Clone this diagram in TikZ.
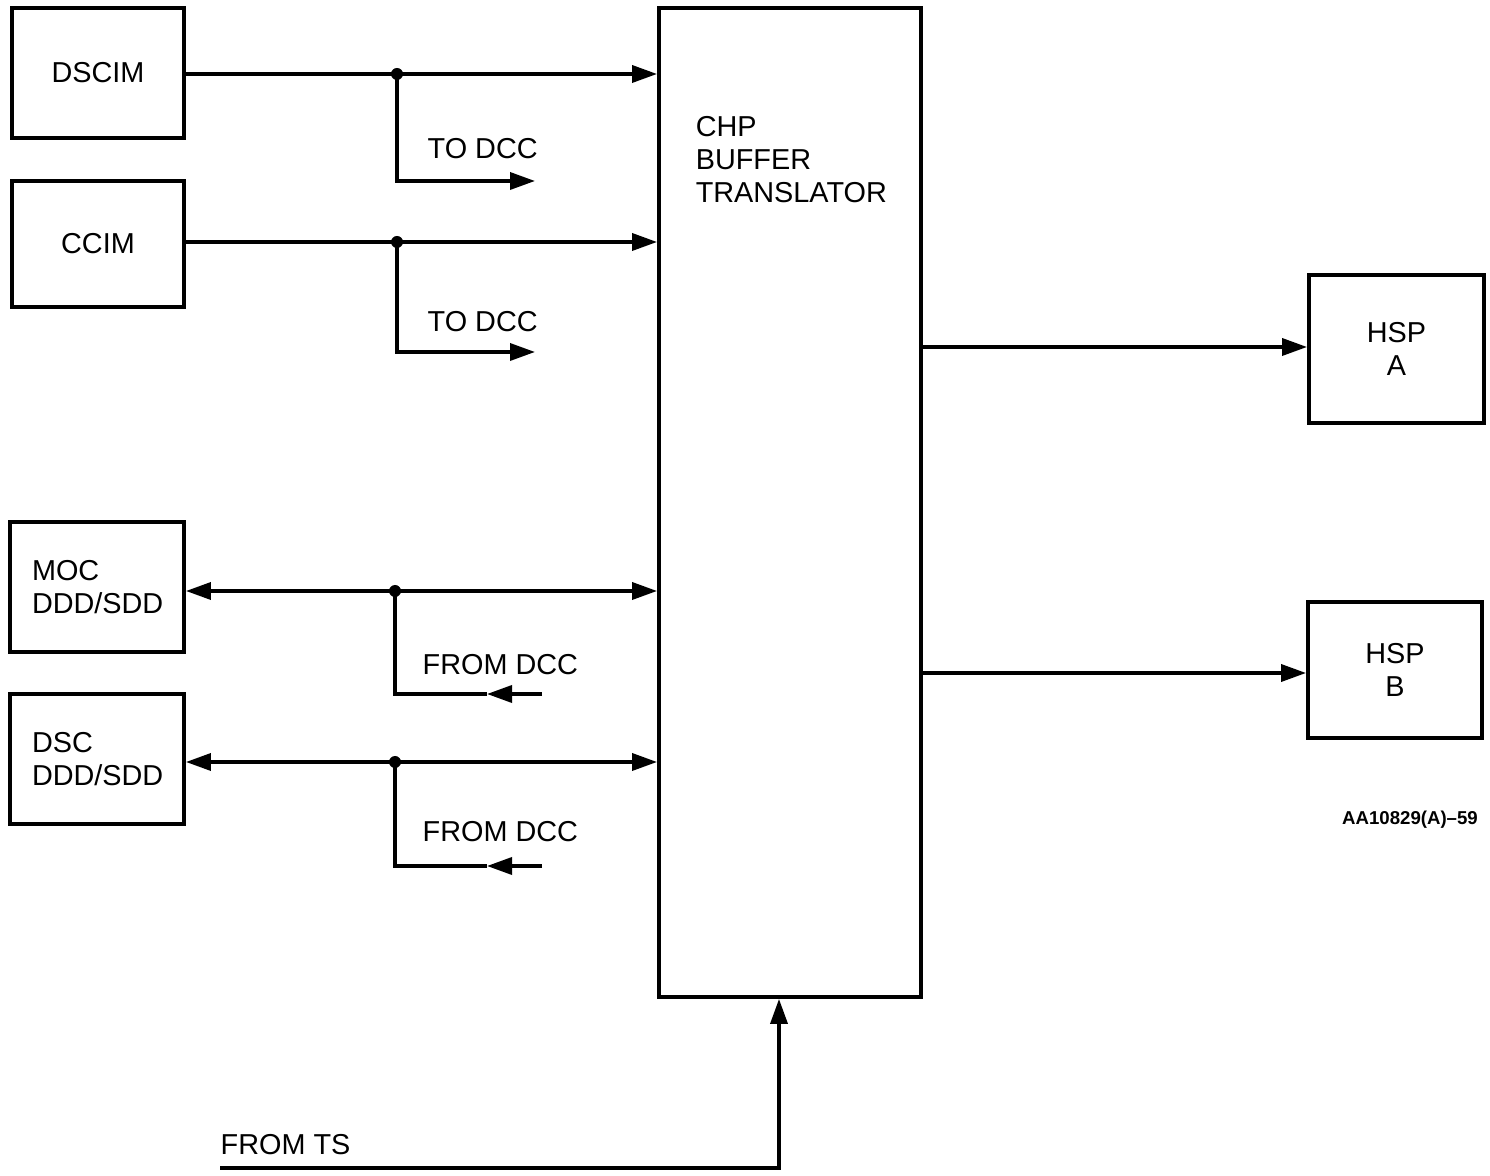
\documentclass[tikz,border=0pt]{standalone}
\usepackage{fontspec}
\setmainfont{Liberation Sans}
\usetikzlibrary{arrows.meta,positioning,calc}

\begin{document}
\begin{tikzpicture}[
    every node/.style={font=\fontsize{8.2}{9.3}\selectfont},
    blk/.style={rectangle, draw, line width=1.1pt, inner sep=0pt},
    lbl/.style={inner sep=0pt},
    arr/.style={-{Triangle[length=2.5mm, width=1.7mm]}, line width=1pt},
    dblarr/.style={{Triangle[length=2.5mm, width=1.7mm]}-{Triangle[length=2.5mm, width=1.7mm]}, line width=1pt},
    line/.style={line width=1pt},
    dot/.style={circle, fill, inner sep=0pt, minimum size=1.2mm}
]
    \useasboundingbox (0,0) rectangle (14.90,-11.76);

    % Blocks
    \node[blk, minimum width=1.72cm, minimum height=1.30cm] (dscim) at (0.98,-0.73) {DSCIM};
    \node[blk, minimum width=1.72cm, minimum height=1.26cm] (ccim) at (0.98,-2.44) {CCIM};
    \node[blk, minimum width=1.74cm, minimum height=1.30cm, text width=1.30cm, align=left]
        (moc) at (0.97,-5.87) {MOC\\DDD/SDD};
    \node[blk, minimum width=1.74cm, minimum height=1.30cm, text width=1.30cm, align=left]
        (dsc) at (0.97,-7.59) {DSC\\DDD/SDD};
    \node[blk, minimum width=2.62cm, minimum height=9.89cm] (chp) at (7.90,-5.025) {};
    \node[lbl, anchor=north west, align=left] (chptxt) at ($(chp.north west)+(0.38,-1.10)$)
        {CHP\\BUFFER\\TRANSLATOR};
    \node[blk, minimum width=1.75cm, minimum height=1.48cm, align=center] (hspa) at (13.965,-3.49) {HSP\\A};
    \node[blk, minimum width=1.74cm, minimum height=1.36cm, align=center] (hspb) at (13.95,-6.70) {HSP\\B};

    % Junctions and free ends
    \coordinate (j1) at (3.97,-0.74);
    \coordinate (j2) at (3.97,-2.42);
    \coordinate (j3) at (3.95,-5.91);
    \coordinate (j4) at (3.95,-7.62);
    \coordinate (t1) at (5.35,-1.81);
    \coordinate (t2) at (5.35,-3.52);
    \coordinate (f1) at (5.42,-6.94);
    \coordinate (f1tip) at (4.87,-6.94);
    \coordinate (f2) at (5.42,-8.66);
    \coordinate (f2tip) at (4.87,-8.66);
    \coordinate (ts) at (2.20,-11.68);
    \coordinate (tscorner) at (7.79,-11.68);

    % Inputs to the translator
    \draw[arr] (dscim.east |- j1) -- (j1 -| chp.west);
    \draw[arr] (ccim.east |- j2) -- (j2 -| chp.west);
    \draw[dblarr] (moc.east |- j3) -- (j3 -| chp.west);
    \draw[dblarr] (dsc.east |- j4) -- (j4 -| chp.west);

    % Branches to and from DCC
    \draw[arr] (j1) |- (t1);
    \draw[arr] (j2) |- (t2);
    \draw[arr] (f1) -- (f1tip);
    \draw[line] (f1tip) -- (j3 |- f1) -- (j3);
    \draw[arr] (f2) -- (f2tip);
    \draw[line] (f2tip) -- (j4 |- f2) -- (j4);
    \foreach \j in {j1,j2,j3,j4} \node[dot] at (\j) {};

    \node[lbl, anchor=west] (todcc1) at (4.27,-1.49) {TO DCC};
    \node[lbl, anchor=west] (todcc2) at (4.27,-3.22) {TO DCC};
    \node[lbl, anchor=west] (fromdcc1) at (4.22,-6.65) {FROM DCC};
    \node[lbl, anchor=west] (fromdcc2) at (4.22,-8.32) {FROM DCC};

    % Outputs
    \draw[arr] (chp.east |- 0,-3.47) -- (hspa.west |- 0,-3.47);
    \draw[arr] (chp.east |- 0,-6.73) -- (hspb.west |- 0,-6.73);

    % From TS
    \draw[arr] (ts) -- (tscorner) -- (tscorner |- chp.south);
    \node[lbl, anchor=west] (fromts) at (2.20,-11.45) {FROM TS};

    % Drawing number
    \node[lbl, font=\fontsize{5.3}{6}\selectfont\bfseries] (dwgno) at (14.10,-8.20) {AA10829(A)--59};
\end{tikzpicture}
\end{document}
